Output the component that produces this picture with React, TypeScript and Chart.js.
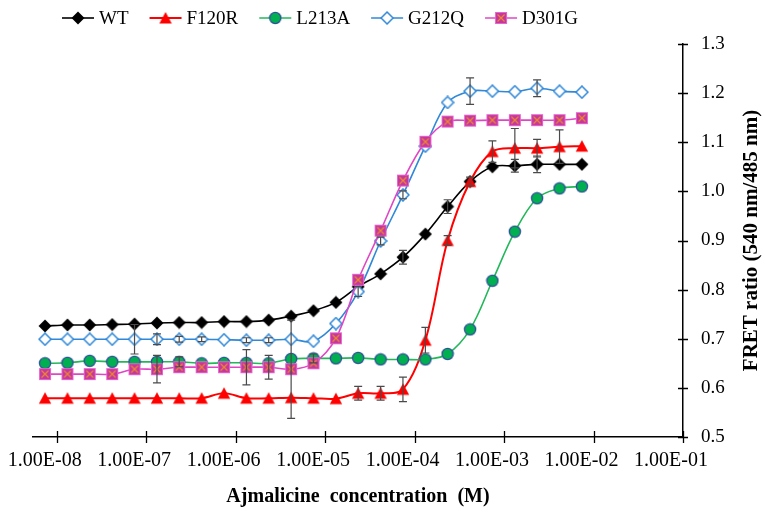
import { useEffect, useRef } from "react";
import { Chart, registerables } from "chart.js";

Chart.register(...registerables);

const SERIF = '"Liberation Serif", "Times New Roman", serif';

// molar concentrations (x)
const CONC = [
  7.41e-9, 1.32e-8, 2.34e-8, 4.17e-8, 7.41e-8, 1.32e-7, 2.34e-7, 4.17e-7, 7.41e-7,
  1.32e-6, 2.34e-6, 4.17e-6, 7.41e-6, 1.32e-5, 2.34e-5, 4.17e-5, 7.41e-5, 1.32e-4,
  2.34e-4, 4.17e-4, 7.41e-4, 1.32e-3, 2.34e-3, 4.17e-3, 7.41e-3,
];

const SERIES_NAMES = ["WT", "F120R", "L213A", "G212Q", "D301G"];

const WT = [
  0.726, 0.728, 0.728, 0.729, 0.73, 0.732, 0.733, 0.733, 0.735, 0.735, 0.738, 0.746, 0.757,
  0.774, 0.806, 0.832, 0.866, 0.913, 0.969, 1.02, 1.05, 1.052, 1.055, 1.055, 1.055,
];
const F120R = [
  0.579, 0.579, 0.579, 0.579, 0.579, 0.579, 0.579, 0.579, 0.589, 0.579, 0.579, 0.58, 0.579,
  0.578, 0.589, 0.589, 0.597, 0.697, 0.9, 1.02, 1.081, 1.088, 1.088, 1.091, 1.092,
];
const L213A = [
  0.65, 0.651, 0.655, 0.653, 0.653, 0.653, 0.653, 0.65, 0.651, 0.651, 0.65, 0.659, 0.66,
  0.66, 0.661, 0.658, 0.658, 0.658, 0.669, 0.719, 0.818, 0.918, 0.986, 1.006, 1.01,
];
const G212Q = [
  0.699, 0.699, 0.699, 0.699, 0.699, 0.699, 0.699, 0.699, 0.698, 0.697, 0.697, 0.699, 0.695,
  0.731, 0.796, 0.899, 0.993, 1.092, 1.181, 1.204, 1.204, 1.203, 1.21, 1.204, 1.202,
];
const D301G = [
  0.628, 0.628, 0.628, 0.628, 0.638, 0.638, 0.642, 0.642, 0.642, 0.642, 0.642, 0.638, 0.65,
  0.701, 0.82, 0.92, 1.022, 1.101, 1.142, 1.144, 1.145, 1.145, 1.145, 1.145, 1.149,
];

// +/- error bar half-heights
const WT_ERR = [
  0, 0, 0, 0, 0, 0, 0, 0, 0, 0, 0, 0, 0, 0, 0, 0, 0.014, 0, 0.014, 0.009, 0, 0.013, 0.017, 0, 0,
];
const F120R_ERR = [
  0, 0, 0, 0, 0, 0, 0, 0, 0, 0, 0, 0, 0, 0, 0.014, 0.014, 0.025, 0.026, 0.01, 0, 0.022, 0.04,
  0.018, 0.034, 0,
];
const L213A_ERR = [
  0, 0, 0, 0, 0, 0, 0.01, 0, 0, 0, 0, 0, 0.009, 0, 0, 0, 0, 0, 0, 0, 0, 0, 0, 0, 0,
];
const G212Q_ERR = [
  0, 0, 0, 0, 0.03, 0.011, 0.006, 0.005, 0, 0.005, 0.005, 0, 0, 0, 0.01, 0.008, 0.008, 0, 0,
  0.027, 0, 0, 0.017, 0, 0,
];
const D301G_ERR = [
  0, 0, 0, 0, 0, 0.028, 0, 0, 0, 0.036, 0.024, 0.1, 0, 0, 0, 0, 0, 0, 0, 0, 0, 0, 0, 0, 0,
];

const X_TICKS = [1e-8, 1e-7, 1e-6, 1e-5, 1e-4, 1e-3, 1e-2, 1e-1];
const X_TICK_LABELS = [
  "1.00E-08", "1.00E-07", "1.00E-06", "1.00E-05", "1.00E-04", "1.00E-03", "1.00E-02", "1.00E-01",
];
const Y_TICKS = [0.5, 0.6, 0.7, 0.8, 0.9, 1.0, 1.1, 1.2, 1.3];
const Y_TICK_LABELS = ["0.5", "0.6", "0.7", "0.8", "0.9", "1.0", "1.1", "1.2", "1.3"];

const X_TITLE = "Ajmalicine  concentration  (M)";
const Y_TITLE = "FRET ratio (540 nm/485 nm)";

const VALUES = [WT, F120R, L213A, G212Q, D301G];
const ERRORS = [WT_ERR, F120R_ERR, L213A_ERR, G212Q_ERR, D301G_ERR];
const LINE_COLORS = ["#000000", "#ff0000", "#22b85a", "#2f88d8", "#e046c4"];
const LINE_WIDTHS = [1.6, 2, 1.6, 1.6, 1.6];

function makeMarker(kind: string): HTMLCanvasElement {
  const c = document.createElement("canvas");
  const s = 14;
  c.width = s;
  c.height = s;
  const ctx = c.getContext("2d")!;
  if (kind === "WT") {
    ctx.fillStyle = "#000";
    ctx.beginPath();
    ctx.moveTo(7, 0.5);
    ctx.lineTo(13.5, 7);
    ctx.lineTo(7, 13.5);
    ctx.lineTo(0.5, 7);
    ctx.closePath();
    ctx.fill();
  } else if (kind === "F120R") {
    ctx.fillStyle = "#ff0000";
    ctx.beginPath();
    ctx.moveTo(7, 1);
    ctx.lineTo(13.2, 12.5);
    ctx.lineTo(0.8, 12.5);
    ctx.closePath();
    ctx.fill();
  } else if (kind === "L213A") {
    ctx.fillStyle = "#00b050";
    ctx.strokeStyle = "#2f4f9a";
    ctx.lineWidth = 1.3;
    ctx.beginPath();
    ctx.arc(7, 7, 5.6, 0, Math.PI * 2);
    ctx.fill();
    ctx.stroke();
  } else if (kind === "G212Q") {
    ctx.fillStyle = "#ffffff";
    ctx.strokeStyle = "#2f88d8";
    ctx.lineWidth = 1.5;
    ctx.beginPath();
    ctx.moveTo(7, 1);
    ctx.lineTo(13, 7);
    ctx.lineTo(7, 13);
    ctx.lineTo(1, 7);
    ctx.closePath();
    ctx.fill();
    ctx.stroke();
  } else {
    ctx.fillStyle = "#c2389c";
    ctx.strokeStyle = "#ea62cf";
    ctx.lineWidth = 1;
    ctx.fillRect(1.5, 1.5, 11, 11);
    ctx.strokeRect(1.5, 1.5, 11, 11);
    ctx.strokeStyle = "#f08a2a";
    ctx.lineWidth = 1.2;
    ctx.beginPath();
    ctx.moveTo(3.5, 3.5);
    ctx.lineTo(10.5, 10.5);
    ctx.moveTo(10.5, 3.5);
    ctx.lineTo(3.5, 10.5);
    ctx.stroke();
  }
  return c;
}

const decorPlugin = {
  id: "decor",
  afterDatasetsDraw(chart: any) {
    const { ctx, scales } = chart;
    const xs = scales.x;
    const ys = scales.y;
    ctx.save();
    ctx.strokeStyle = "#4a4a4a";
    ctx.lineWidth = 1.2;
    ERRORS.forEach((errs, si) => {
      errs.forEach((e, k) => {
        if (!e) return;
        const v = VALUES[si][k];
        const x = xs.getPixelForValue(CONC[k]);
        const y1 = ys.getPixelForValue(v + e);
        const y2 = ys.getPixelForValue(v - e);
        ctx.beginPath();
        ctx.moveTo(x, y1);
        ctx.lineTo(x, y2);
        ctx.moveTo(x - 4, y1);
        ctx.lineTo(x + 4, y1);
        ctx.moveTo(x - 4, y2);
        ctx.lineTo(x + 4, y2);
        ctx.stroke();
      });
    });
    ctx.restore();
  },
  afterDraw(chart: any) {
    const { ctx, scales, chartArea } = chart;
    const xs = scales.x;
    const ys = scales.y;
    ctx.save();
    // crossing tick marks
    ctx.strokeStyle = "#000";
    ctx.lineWidth = 1.3;
    ctx.beginPath();
    X_TICKS.forEach((t) => {
      const x = Math.round(xs.getPixelForValue(t)) + 0.5;
      ctx.moveTo(x, chartArea.bottom - 6);
      ctx.lineTo(x, chartArea.bottom + 6);
    });
    Y_TICKS.forEach((t) => {
      const y = Math.round(ys.getPixelForValue(t)) + 0.5;
      ctx.moveTo(chartArea.right - 5, y);
      ctx.lineTo(chartArea.right + 5, y);
    });
    ctx.stroke();

    // y title, reading bottom to top
    ctx.fillStyle = "#000";
    ctx.font = `bold 21px ${SERIF}`;
    ctx.textAlign = "center";
    ctx.textBaseline = "middle";
    ctx.translate(752, (chartArea.top + chartArea.bottom) / 2);
    ctx.rotate(-Math.PI / 2);
    ctx.fillText(Y_TITLE, 0, 0);
    ctx.restore();

    // legend
    ctx.save();
    ctx.font = `19px ${SERIF}`;
    ctx.textBaseline = "middle";
    ctx.textAlign = "left";
    let x = 62;
    const y = 18;
    chart.data.datasets.forEach((ds: any, i: number) => {
      ctx.strokeStyle = LINE_COLORS[i];
      ctx.lineWidth = LINE_WIDTHS[i];
      ctx.beginPath();
      ctx.moveTo(x, y);
      ctx.lineTo(x + 32, y);
      ctx.stroke();
      const m = ds.pointStyle as HTMLCanvasElement;
      ctx.drawImage(m, x + 16 - m.width / 2, y - m.height / 2);
      ctx.fillStyle = "#000";
      ctx.fillText(SERIES_NAMES[i], x + 37, y + 1);
      x += 37 + ctx.measureText(SERIES_NAMES[i]).width + 21;
    });
    ctx.restore();
  },
};

export default function App() {
  const canvasRef = useRef<HTMLCanvasElement>(null);

  useEffect(() => {
    if (!canvasRef.current) return;
    const chart = new Chart(canvasRef.current, {
      type: "line",
      data: {
        datasets: SERIES_NAMES.map((name, i) => {
          const marker = makeMarker(name);
          return {
            label: name,
            data: CONC.map((c, k) => ({ x: c, y: VALUES[i][k] })),
            borderColor: LINE_COLORS[i],
            borderWidth: LINE_WIDTHS[i],
            backgroundColor: LINE_COLORS[i],
            pointStyle: marker,
            pointRadius: 6,
            tension: 0.35,
            fill: false,
            order: 5 - i,
          };
        }),
      },
      options: {
        responsive: false,
        animation: false,
        events: [],
        layout: { padding: { left: 33, top: 44, right: 0, bottom: 0 } },
        plugins: {
          legend: { display: false },
          tooltip: { enabled: false },
        },
        scales: {
          x: {
            type: "logarithmic",
            min: Math.pow(10, -8.265),
            max: 0.1,
            afterBuildTicks: (s: any) => {
              s.ticks = X_TICKS.map((v) => ({ value: v }));
            },
            afterFit: (s: any) => {
              s.height = 79;
            },
            grid: { display: false, drawTicks: false },
            border: { display: true, color: "#000", width: 1.5 },
            ticks: {
              autoSkip: false,
              maxRotation: 0,
              minRotation: 0,
              labelOffset: -12,
              padding: 12,
              color: "#000",
              font: { family: SERIF, size: 20 },
              callback: (_v: any, idx: number) => X_TICK_LABELS[idx],
            },
            title: {
              display: true,
              text: X_TITLE,
              color: "#000",
              font: { family: SERIF, size: 20, weight: "bold" },
              padding: { top: 0, bottom: 7 },
            },
          },
          y: {
            type: "linear",
            position: "right",
            min: 0.5,
            max: 1.3,
            afterBuildTicks: (s: any) => {
              s.ticks = Y_TICKS.map((v) => ({ value: v }));
            },
            afterFit: (s: any) => {
              s.width = 82;
            },
            grid: { display: false, drawTicks: false },
            border: { display: true, color: "#000", width: 1.5 },
            ticks: {
              padding: 18,
              color: "#000",
              font: { family: SERIF, size: 19 },
              callback: (_v: any, idx: number) => Y_TICK_LABELS[idx],
            },
          },
        },
      },
      plugins: [decorPlugin],
    } as any);
    return () => chart.destroy();
  }, []);

  return (
    <div style={{ position: "absolute", left: 0, top: 0, width: 765, height: 516, background: "#fff" }}>
      <canvas ref={canvasRef} width={765} height={516} style={{ width: 765, height: 516 }} />
    </div>
  );
}
